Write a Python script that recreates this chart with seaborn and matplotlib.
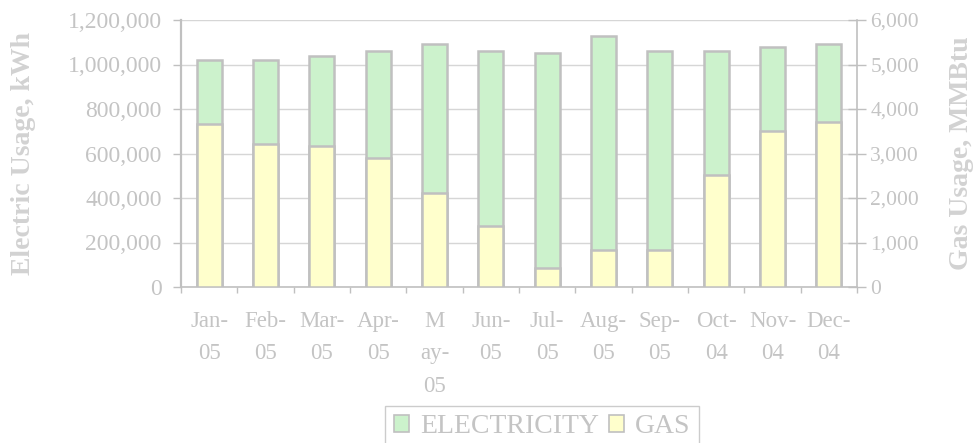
import numpy as np
import matplotlib
matplotlib.use('Agg')
import matplotlib.pyplot as plt
from matplotlib.patches import Patch
from matplotlib.ticker import FuncFormatter, MultipleLocator, FixedLocator
import seaborn as sns
import pandas as pd

# chart data
months = ['Jan-\n05', 'Feb-\n05', 'Mar-\n05', 'Apr-\n05', 'M\nay-\n05', 'Jun-\n05',
          'Jul-\n05', 'Aug-\n05', 'Sep-\n05', 'Oct-\n04', 'Nov-\n04', 'Dec-\n04']
electricity_kwh = [1020000, 1020000, 1040000, 1060000, 1090000, 1060000,
                   1050000, 1130000, 1060000, 1060000, 1080000, 1090000]
gas_mmbtu = [3660, 3215, 3170, 2910, 2120, 1380, 430, 830, 830, 2515, 3500, 3700]

df = pd.DataFrame({'month': months, 'kwh': electricity_kwh, 'gas': gas_mmbtu})

sns.set_style('white')
plt.rcParams['font.family'] = ['Liberation Serif', 'DejaVu Serif']

green = '#ccf2cc'
yellow = '#ffffcc'
edge = '#c0c0c0'
txt = '#c4c4c4'
lbl = '#d2d2d2'
grid = '#d6d6d6'

fig = plt.figure(figsize=(9.76, 4.43), dpi=100)
ax = fig.add_axes([181/976, 1-287/443, 676/976, 267/443])
ax2 = ax.twinx()

# electricity bars on left axis, gas bars in front on right axis
sns.barplot(data=df, x='month', y='kwh', ax=ax, color=green, saturation=1,
            width=0.44, edgecolor=edge, linewidth=1.8)
sns.barplot(data=df, x='month', y='gas', ax=ax2, color=yellow, saturation=1,
            width=0.44, edgecolor=edge, linewidth=1.8)

ax.set_xlim(-0.5, len(months) - 0.5)
ax.set_ylim(0, 1200000)
ax2.set_ylim(0, 6000)
ax.yaxis.set_major_locator(MultipleLocator(200000))
ax2.yaxis.set_major_locator(MultipleLocator(1000))
ax.yaxis.set_major_formatter(FuncFormatter(lambda v, p: f'{int(v):,}'))
ax2.yaxis.set_major_formatter(FuncFormatter(lambda v, p: f'{int(v):,}'))

ax.set_axisbelow(True)
ax.yaxis.grid(True, color=grid, linewidth=1.0)
ax.xaxis.grid(False)
ax2.grid(False)

# category labels at centres, tick marks at boundaries
ax.xaxis.set_major_locator(FixedLocator(np.arange(len(months))))
ax.set_xticklabels(months, linespacing=1.72)
ax.xaxis.set_minor_locator(FixedLocator(np.arange(len(months) + 1) - 0.5))
ax.tick_params(axis='x', which='major', length=0, pad=17, labelsize=16.5, labelcolor=txt)
ax.tick_params(axis='x', which='minor', length=4.5, width=1, color=edge, direction='out', bottom=True)
ax.tick_params(axis='y', length=6, width=1, color=edge, direction='out', pad=8,
               labelsize=17, labelcolor=txt, left=True)
ax2.tick_params(axis='y', length=13, width=1, color=edge, direction='inout', pad=3,
                labelsize=15.5, labelcolor=txt, right=True)

for s in ['top', 'right']:
    ax.spines[s].set_visible(False)
for s in ['top', 'left', 'bottom']:
    ax2.spines[s].set_visible(False)
ax.spines['left'].set_color(edge)
ax.spines['left'].set_linewidth(1.6)
ax.spines['bottom'].set_color(edge)
ax.spines['bottom'].set_linewidth(1.2)
ax2.spines['right'].set_color(edge)
ax2.spines['right'].set_linewidth(1.2)

ax.set_xlabel('')
ax.set_ylabel('Electric Usage, kWh', fontsize=20, fontweight='bold', color=lbl)
ax.yaxis.set_label_coords(-0.214, 0.5)
ax2.set_ylabel('Gas Usage, MMBtu', fontsize=20, fontweight='bold', color=lbl)
ax2.yaxis.set_label_coords(1.136, 0.5)

handles = [Patch(facecolor=green, edgecolor=edge, linewidth=1.2, label='ELECTRICITY'),
           Patch(facecolor=yellow, edgecolor=edge, linewidth=1.2, label='GAS')]
leg = fig.legend(handles=handles, loc='upper center', bbox_to_anchor=(542/976, 1-406/443),
                 ncol=2, fontsize=20, frameon=True, fancybox=False, handlelength=0.55,
                 handleheight=0.55, handletextpad=0.4, columnspacing=0.35, borderpad=0.3,
                 borderaxespad=0)
leg.get_frame().set_edgecolor(edge)
leg.get_frame().set_linewidth(1.0)
for t in leg.get_texts():
    t.set_color(txt)

plt.savefig('out.png', dpi=100)
